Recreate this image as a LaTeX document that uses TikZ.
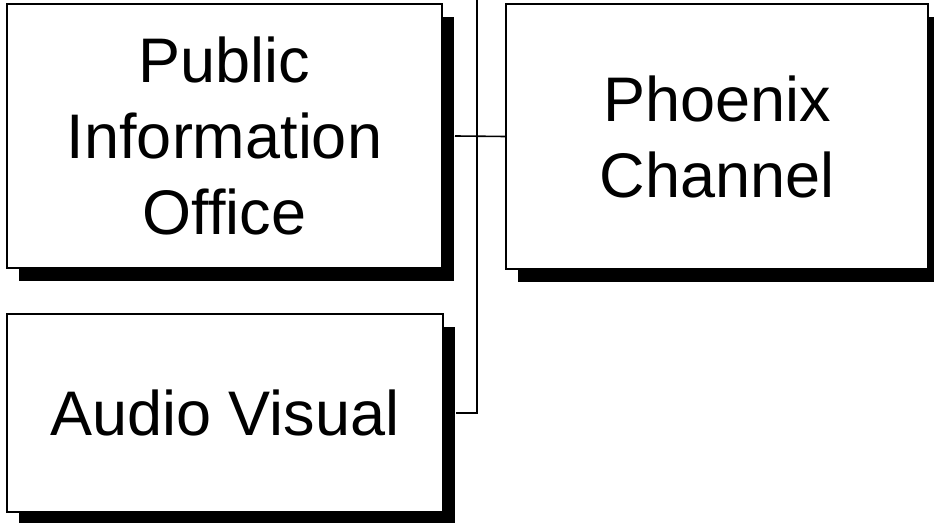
\documentclass[tikz,border=0pt]{standalone}
\usepackage{fontspec}
\setmainfont{Liberation Sans}
\usetikzlibrary{shadows}

\tikzset{
	unit/.style={draw=black, line width=1pt, fill=white, inner sep=0pt, align=center,
		font=\fontsize{31.5}{38}\selectfont,
		drop shadow={shadow xshift=6pt, shadow yshift=-6.5pt, fill=black, opacity=1}},
	link/.style={draw=black, line width=0.8pt}
}

\begin{document}
\begin{tikzpicture}[x=0.5pt,y=-0.5pt]
		\clip (0,0) rectangle (934,523);
		\fill[white] (0,0) rectangle (934,523);
		% boxes
		\node[unit, minimum width=217.5pt, minimum height=132pt] (pio) at (224.5,136) {Public\\Information\\Office};
		\node[unit, minimum width=211pt, minimum height=132.5pt] (phx) at (717,136.5) {Phoenix\\Channel};
		\node[unit, minimum width=218pt, minimum height=99pt] (av) at (225,413) {Audio Visual};
		% connectors
		\coordinate (trunk) at (477,-5);
		\draw[link] (trunk) |- ([xshift=6pt]av.east);
		\draw[link] ([xshift=6pt]pio.east) -- (phx.west);
	\end{tikzpicture}
\end{document}
